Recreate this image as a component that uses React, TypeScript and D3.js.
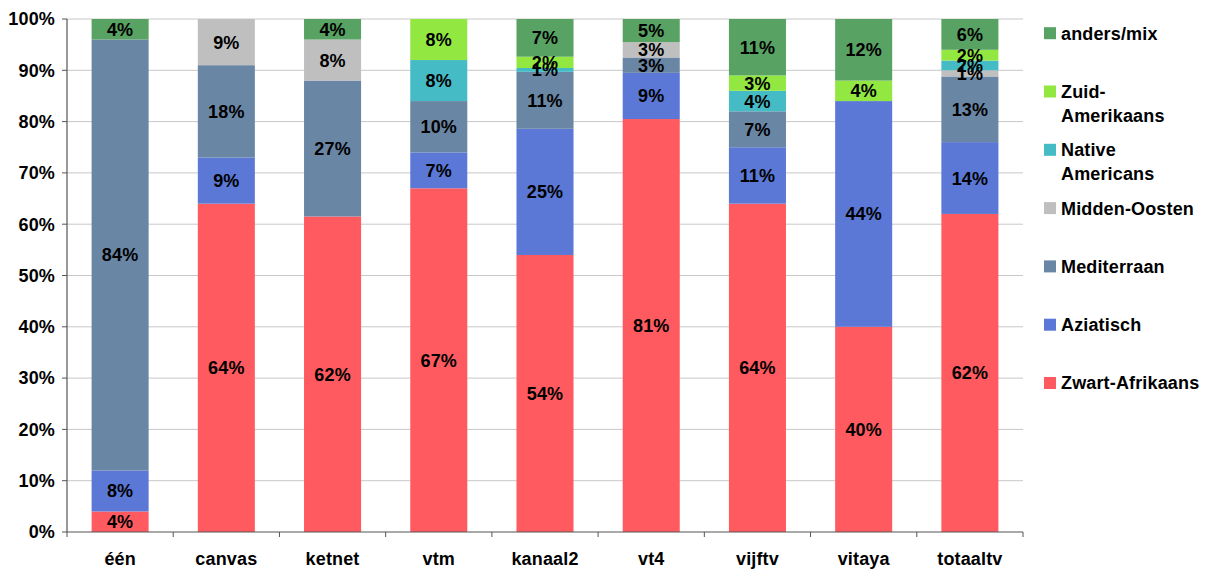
import React from "react";
import * as d3 from "d3";

const channels = ["één", "canvas", "ketnet", "vtm", "kanaal2", "vt4", "vijftv", "vitaya", "totaaltv"];

const groups = ["Zwart-Afrikaans", "Aziatisch", "Mediterraan", "Midden-Oosten", "Native Americans", "Zuid-Amerikaans", "anders/mix"];

// per-group shares (%) for each channel, bottom to top
const zwartAfrikaans = [4, 64, 61.5, 67, 54, 80.5, 64, 40, 62];
const aziatisch = [8, 9, 0, 7, 24.6, 9, 11, 44, 14];
const mediterraan = [84, 18, 26.5, 10, 11.1, 3, 7, 0, 12.8];
const middenOosten = [0, 9, 8, 0, 0, 3, 0, 0, 1.2];
const nativeAmericans = [0, 0, 0, 8, 0.75, 0, 4, 0, 1.9];
const zuidAmerikaans = [0, 0, 0, 8, 2.2, 0, 3, 4, 2.1];
const andersMix = [4, 0, 4, 0, 7.35, 4.5, 11, 12, 6];

const seriesValues = [zwartAfrikaans, aziatisch, mediterraan, middenOosten, nativeAmericans, zuidAmerikaans, andersMix];

const colors = ["#FF5A5F", "#5B78D6", "#6A86A5", "#BFBFBF", "#45BCC5", "#92E840", "#58A263"];

// legend text, wrapped as in the original
const legendLines: string[][] = [
  ["Zwart-Afrikaans"],
  ["Aziatisch"],
  ["Mediterraan"],
  ["Midden-Oosten"],
  ["Native", "Americans"],
  ["Zuid-", "Amerikaans"],
  ["anders/mix"],
];

const yTicks = [0, 10, 20, 30, 40, 50, 60, 70, 80, 90, 100];

const W = 1211;
const H = 572;
const left = 67;
const right = 1023;
const top = 19;
const bottom = 532;
const font = "'Liberation Sans', Arial, Helvetica, sans-serif";
const fs = 18;

export default function App() {
  const rows = channels.map((c, i) => {
    const r: Record<string, any> = { channel: c };
    groups.forEach((g, j) => (r[g] = seriesValues[j][i]));
    return r;
  });
  const stack = d3.stack<Record<string, any>>().keys(groups)(rows);

  const x = d3.scaleBand().domain(channels).range([left, right]).paddingInner(0.463).paddingOuter(0.2315);
  const y = d3.scaleLinear().domain([0, 100]).range([bottom, top]);
  const step = x.step();
  const boundaries = d3.range(channels.length + 1).map((i) => left + i * step);

  return (
    <svg width={W} height={H} style={{ position: "absolute", left: 0, top: 0, background: "#fff" }} fontFamily={font} fontWeight="bold" letterSpacing={0.15}>
      {yTicks.map((t) => (
        <g key={t}>
          {t > 0 && <line x1={left} x2={right} y1={y(t)} y2={y(t)} stroke="#C8C8C8" strokeWidth={1} />}
          <line x1={left - 5} x2={left} y1={y(t)} y2={y(t)} stroke="#555" strokeWidth={1} />
          <text x={55} y={y(t)} dy="0.35em" textAnchor="end" fontSize={fs} fill="#000">
            {t}%
          </text>
        </g>
      ))}
      {stack.map((s, j) => (
        <g key={s.key} fill={colors[j]}>
          {s.map((d, i) =>
            d[1] - d[0] > 0 ? (
              <rect key={i} x={x(channels[i])} width={x.bandwidth()} y={y(d[1])} height={y(d[0]) - y(d[1])} />
            ) : null
          )}
        </g>
      ))}
      {stack.map((s) =>
        s.map((d, i) =>
          d[1] - d[0] > 0 ? (
            <text
              key={s.key + i}
              x={(x(channels[i]) as number) + x.bandwidth() / 2}
              y={y((d[0] + d[1]) / 2)}
              dy="0.36em"
              textAnchor="middle"
              fontSize={fs}
              fill="#000"
            >
              {Math.round(d[1] - d[0])}%
            </text>
          ) : null
        )
      )}
      <line x1={left} x2={left} y1={top} y2={bottom} stroke="#555" strokeWidth={1.2} />
      <line x1={left} x2={right} y1={bottom} y2={bottom} stroke="#555" strokeWidth={1.2} />
      {boundaries.map((bx, i) => (
        <line key={i} x1={bx} x2={bx} y1={bottom} y2={bottom + 5} stroke="#555" strokeWidth={1} />
      ))}
      {channels.map((c) => (
        <text key={c} x={(x(c) as number) + x.bandwidth() / 2} y={565} textAnchor="middle" fontSize={fs} fill="#000">
          {c}
        </text>
      ))}
      {groups.map((g, j) => {
        const ly = 383 - j * 58.3;
        return (
          <g key={g}>
            <rect x={1044} y={ly - 6} width={12} height={12} fill={colors[j]} />
            {legendLines[j].map((line, k) => (
              <text key={k} x={1061} y={ly + k * 24} dy="0.36em" fontSize={fs} fill="#000">
                {line}
              </text>
            ))}
          </g>
        );
      })}
    </svg>
  );
}
